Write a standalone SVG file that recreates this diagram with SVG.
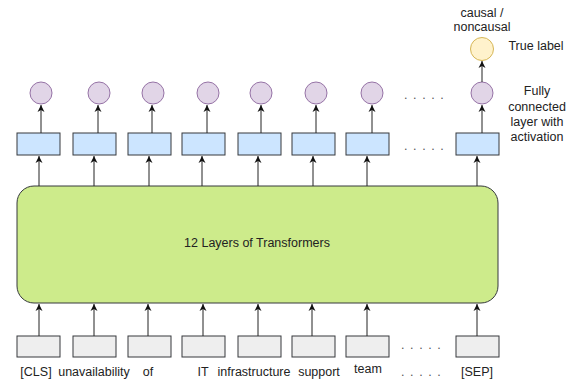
<svg xmlns="http://www.w3.org/2000/svg" width="571" height="383" viewBox="0 0 571 383">
<style>
text{font-family:"Liberation Sans",Arial,sans-serif;font-size:12.5px;fill:#222;text-anchor:middle}
.b{fill:#cce5ff;stroke:#36393d;stroke-width:1}
.g{fill:#eeeeee;stroke:#36393d;stroke-width:1}
.c{fill:#e1d5e7;stroke:#9673a6;stroke-width:1}
.y{fill:#fff2cc;stroke:#d6b656;stroke-width:1}
.t{fill:#cdeb8b;stroke:#36393d;stroke-width:1}
.dots{fill:#555;letter-spacing:5.6px;text-anchor:start}
#connectors line{stroke:#222;stroke-width:1;marker-end:url(#arr)}
</style>
<defs>
<marker id="arr" viewBox="0 0 8 8" refX="7" refY="4" markerWidth="8" markerHeight="8" markerUnits="userSpaceOnUse" orient="auto">
<path d="M0,0.5 L7,4 L0,7.5 L2,4 Z" fill="#111"/>
</marker>
</defs>
<rect width="571" height="383" fill="#fff"/>
<g id="transformer"><rect class="t" x="17" y="186" width="481" height="117" rx="17" ry="17"/><text x="257" y="247">12 Layers of Transformers</text></g>
<g id="tok1"><rect class="g" x="17" y="336" width="43" height="21"/><text x="36" y="376">[CLS]</text></g>
<g id="tok2"><rect class="g" x="73" y="336" width="43" height="21"/><text x="94" y="376">unavailability</text></g>
<g id="tok3"><rect class="g" x="128" y="336" width="43" height="21"/><text x="148" y="376">of</text></g>
<g id="tok4"><rect class="g" x="182" y="336" width="43" height="21"/><text x="203" y="376">IT</text></g>
<g id="tok5"><rect class="g" x="238" y="336" width="43" height="21"/><text x="254" y="376">infrastructure</text></g>
<g id="tok6"><rect class="g" x="292" y="336" width="43" height="21"/><text x="319" y="376">support</text></g>
<g id="tok7"><rect class="g" x="346" y="336" width="43" height="21"/><text x="368" y="373">team</text></g>
<g id="tok8"><rect class="g" x="456" y="336" width="43" height="21"/><text x="477" y="376">[SEP]</text></g>
<g id="emb1"><rect class="b" x="17" y="133" width="43" height="22"/></g>
<g id="emb2"><rect class="b" x="73" y="133" width="43" height="22"/></g>
<g id="emb3"><rect class="b" x="128" y="133" width="43" height="22"/></g>
<g id="emb4"><rect class="b" x="182" y="133" width="43" height="22"/></g>
<g id="emb5"><rect class="b" x="238" y="133" width="43" height="22"/></g>
<g id="emb6"><rect class="b" x="292" y="133" width="43" height="22"/></g>
<g id="emb7"><rect class="b" x="346" y="133" width="43" height="22"/></g>
<g id="emb8"><rect class="b" x="456" y="133" width="43" height="22"/></g>
<g id="fc1"><circle class="c" cx="41" cy="93" r="11"/></g>
<g id="fc2"><circle class="c" cx="99" cy="93" r="11"/></g>
<g id="fc3"><circle class="c" cx="153" cy="93" r="11"/></g>
<g id="fc4"><circle class="c" cx="208" cy="93" r="11"/></g>
<g id="fc5"><circle class="c" cx="261" cy="93" r="11"/></g>
<g id="fc6"><circle class="c" cx="316" cy="93" r="11"/></g>
<g id="fc7"><circle class="c" cx="372" cy="93" r="11"/></g>
<g id="fc8"><circle class="c" cx="482" cy="93" r="11"/></g>
<g id="truelabel"><circle class="y" cx="482" cy="49" r="11.5"/><text x="482" y="17">causal /</text><text x="482" y="31">noncausal</text><text x="536" y="50">True label</text></g>
<g id="fclabel"><text x="537" y="95">Fully</text><text x="537" y="111">connected</text><text x="537" y="126">layer with</text><text x="537" y="141">activation</text></g>
<g id="ellipses">
<text class="dots" x="404" y="99">.....</text>
<text class="dots" x="404" y="150">.....</text>
<text class="dots" x="401" y="349">.....</text>
<text class="dots" x="401" y="376">.....</text>
</g>
<g id="connectors">
<line x1="39" y1="336" x2="39" y2="304"/>
<line x1="94" y1="336" x2="94" y2="304"/>
<line x1="148" y1="336" x2="148" y2="304"/>
<line x1="203" y1="336" x2="203" y2="304"/>
<line x1="258" y1="336" x2="258" y2="304"/>
<line x1="312" y1="336" x2="312" y2="304"/>
<line x1="367" y1="336" x2="367" y2="304"/>
<line x1="477" y1="336" x2="477" y2="304"/>
<line x1="39" y1="186" x2="39" y2="156"/>
<line x1="94" y1="186" x2="94" y2="156"/>
<line x1="149" y1="186" x2="149" y2="156"/>
<line x1="202" y1="186" x2="202" y2="156"/>
<line x1="258" y1="186" x2="258" y2="156"/>
<line x1="313" y1="186" x2="313" y2="156"/>
<line x1="367" y1="186" x2="367" y2="156"/>
<line x1="477" y1="186" x2="477" y2="156"/>
<line x1="41" y1="133" x2="41" y2="105"/>
<line x1="98" y1="133" x2="98" y2="105"/>
<line x1="152" y1="133" x2="152" y2="105"/>
<line x1="207" y1="133" x2="207" y2="105"/>
<line x1="261" y1="133" x2="261" y2="105"/>
<line x1="316" y1="133" x2="316" y2="105"/>
<line x1="372" y1="133" x2="372" y2="105"/>
<line x1="482" y1="133" x2="482" y2="105"/>
<line x1="482" y1="82" x2="482" y2="61"/>
</g>
</svg>
